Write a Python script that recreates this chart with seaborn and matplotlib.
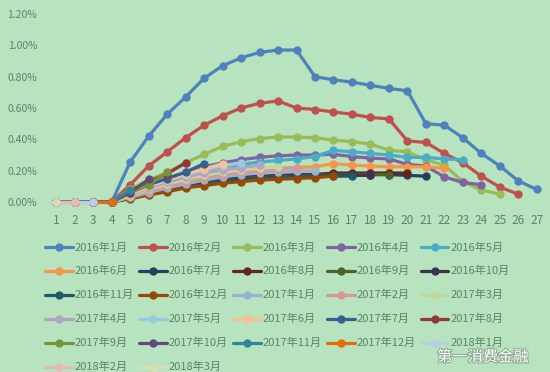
import pandas as pd
import matplotlib
matplotlib.use('Agg')
import matplotlib.pyplot as plt
import matplotlib.patheffects as pe
import seaborn as sns

# months on book
months = list(range(1, 28))

# vintage curves (%), one list per issuing month
v2016_01 = [0, 0, 0, 0, 0.255, 0.42, 0.56, 0.67, 0.79, 0.87, 0.92, 0.955, 0.97, 0.97, 0.80, 0.78, 0.765, 0.745, 0.725, 0.71, 0.50, 0.49, 0.41, 0.31, 0.23, 0.135, 0.08]
v2016_02 = [0, 0, 0, 0, 0.11, 0.23, 0.32, 0.41, 0.49, 0.55, 0.60, 0.63, 0.645, 0.60, 0.59, 0.575, 0.56, 0.54, 0.53, 0.39, 0.38, 0.31, 0.25, 0.165, 0.095, 0.05]
v2016_03 = [0, 0, 0, 0, 0.08, 0.14, 0.19, 0.25, 0.305, 0.355, 0.385, 0.405, 0.415, 0.415, 0.41, 0.395, 0.385, 0.37, 0.33, 0.32, 0.27, 0.235, 0.13, 0.077, 0.05]
v2016_04 = [0, 0, 0, 0, 0.06, 0.11, 0.15, 0.19, 0.225, 0.25, 0.27, 0.285, 0.295, 0.30, 0.30, 0.305, 0.29, 0.28, 0.275, 0.24, 0.23, 0.16, 0.125, 0.11]
v2016_05 = [0, 0, 0, 0, 0.05, 0.09, 0.13, 0.165, 0.195, 0.22, 0.24, 0.255, 0.265, 0.275, 0.29, 0.33, 0.32, 0.31, 0.30, 0.285, 0.285, 0.275, 0.27]
v2016_06 = [0, 0, 0, 0, 0.04, 0.08, 0.11, 0.14, 0.165, 0.185, 0.20, 0.21, 0.215, 0.22, 0.225, 0.245, 0.235, 0.23, 0.225, 0.225, 0.225, 0.215]
v2016_07 = [0, 0, 0, 0, 0.03, 0.06, 0.09, 0.115, 0.135, 0.15, 0.16, 0.165, 0.17, 0.175, 0.175, 0.18, 0.175, 0.175, 0.175, 0.17, 0.165]
v2016_08 = [0, 0, 0, 0, 0.03, 0.06, 0.085, 0.11, 0.13, 0.145, 0.155, 0.16, 0.165, 0.17, 0.175, 0.185, 0.185, 0.185, 0.185, 0.185]
v2016_09 = [0, 0, 0, 0, 0.03, 0.055, 0.08, 0.105, 0.125, 0.14, 0.15, 0.155, 0.16, 0.165, 0.17, 0.175, 0.175, 0.175, 0.175]
v2016_10 = [0, 0, 0, 0, 0.025, 0.05, 0.075, 0.10, 0.12, 0.135, 0.145, 0.15, 0.155, 0.16, 0.165, 0.17, 0.17, 0.17]
v2016_11 = [0, 0, 0, 0, 0.025, 0.05, 0.07, 0.095, 0.115, 0.13, 0.14, 0.15, 0.155, 0.16, 0.165, 0.165, 0.165]
v2016_12 = [0, 0, 0, 0, 0.02, 0.045, 0.065, 0.09, 0.105, 0.12, 0.13, 0.14, 0.145, 0.15, 0.155, 0.165]
v2017_01 = [0, 0, 0, 0, 0.03, 0.06, 0.09, 0.115, 0.14, 0.16, 0.175, 0.185, 0.19, 0.195, 0.20]
v2017_02 = [0, 0, 0, 0, 0.035, 0.07, 0.10, 0.13, 0.155, 0.175, 0.19, 0.20, 0.21, 0.22]
v2017_03 = [0, 0, 0, 0, 0.04, 0.08, 0.115, 0.145, 0.17, 0.19, 0.205, 0.215, 0.225]
v2017_04 = [0, 0, 0, 0, 0.045, 0.09, 0.125, 0.16, 0.185, 0.205, 0.22, 0.235]
v2017_05 = [0, 0, 0, 0, 0.05, 0.10, 0.14, 0.175, 0.205, 0.23, 0.25]
v2017_06 = [0, 0, 0, 0, 0.05, 0.10, 0.14, 0.18, 0.21, 0.245]
v2017_07 = [0, 0, 0, 0, 0.06, 0.11, 0.15, 0.19, 0.245]
v2017_08 = [0, 0, 0, 0, 0.07, 0.13, 0.18, 0.25]
v2017_09 = [0, 0, 0, 0, 0.06, 0.11, 0.19]
v2017_10 = [0, 0, 0, 0, 0.06, 0.145]
v2017_11 = [0, 0, 0, 0, 0.075]
v2017_12 = [0, 0, 0, 0]
v2018_01 = [0, 0, 0]
v2018_02 = [0, 0]
v2018_03 = [0]

series = [v2016_01, v2016_02, v2016_03, v2016_04, v2016_05, v2016_06,
          v2016_07, v2016_08, v2016_09, v2016_10, v2016_11, v2016_12,
          v2017_01, v2017_02, v2017_03, v2017_04, v2017_05, v2017_06,
          v2017_07, v2017_08, v2017_09, v2017_10, v2017_11, v2017_12,
          v2018_01, v2018_02, v2018_03]
labels = ['2016年%d月' % m for m in range(1, 13)] + \
         ['2017年%d月' % m for m in range(1, 13)] + \
         ['2018年%d月' % m for m in range(1, 4)]

# Excel 2007 style palette
colors = ['#4F81BD', '#C0504D', '#9BBB59', '#8064A2', '#4BACC6', '#F79646',
          '#254061', '#632523', '#4F6228', '#3F3151', '#215968', '#984807',
          '#95B3D7', '#D99694', '#C3D69B', '#B3A2C7', '#93CDDD', '#FAC090',
          '#376092', '#953735', '#77933C', '#604A7B', '#31859C', '#E46C0A',
          '#B9CDE5', '#E6B9B8', '#D8DDB4']

rows = []
for lab, vals in zip(labels, series):
    for m, v in zip(months, vals):
        rows.append({'month': m, 'rate': v / 100, 'vintage': lab})
df = pd.DataFrame(rows)

bg = '#B7E3BF'
txt = '#5B8463'

sns.set_style('white')
plt.rcParams['font.family'] = ['Noto Sans CJK SC', 'DejaVu Sans']

fig = plt.figure(figsize=(5.5, 3.72), dpi=100, facecolor=bg)
ax = fig.add_axes([47 / 550, 1 - 202 / 372, 499 / 550, 188 / 372])
ax.set_facecolor(bg)

sns.lineplot(data=df, x='month', y='rate', hue='vintage', hue_order=labels,
             palette=dict(zip(labels, colors)), marker='o', markersize=6,
             markeredgewidth=0, linewidth=2.3, sort=False, ax=ax, clip_on=False)

ax.set_xlim(0.5, 27.5)
ax.set_ylim(0, 0.012)
ax.set_xticks(months)
ax.set_yticks([0, 0.002, 0.004, 0.006, 0.008, 0.010, 0.012])
ax.set_yticklabels(['%.2f%%' % (t * 100) for t in ax.get_yticks()])
ax.tick_params(colors=txt, length=0)
ax.tick_params(axis='y', labelsize=7.5, pad=7)
ax.tick_params(axis='x', labelsize=8.5, pad=9)
ax.set_xlabel('')
ax.set_ylabel('')
for s in ax.spines.values():
    s.set_visible(False)

# legend: Excel fills row by row, matplotlib column by column
handles, labs = ax.get_legend_handles_labels()
ax.get_legend().remove()
order = []
for c in range(5):
    order += list(range(c, 27, 5))
leg = fig.legend([handles[i] for i in order], [labs[i] for i in order],
                 loc='upper left', bbox_to_anchor=(45 / 550, 1 - 242 / 372),
                 ncol=5, frameon=False, fontsize=8, labelcolor=txt,
                 handlelength=2.5, handletextpad=0.2, columnspacing=0.42,
                 labelspacing=1.22, borderpad=0, borderaxespad=0)

# watermark
fig.text(437 / 550, 1 - 357 / 372, '第一消费金融', fontsize=11, color='white',
         va='center', ha='left',
         path_effects=[pe.withStroke(linewidth=1.5, foreground='#8FA894')])

fig.savefig('out.png', dpi=100, facecolor=bg)
